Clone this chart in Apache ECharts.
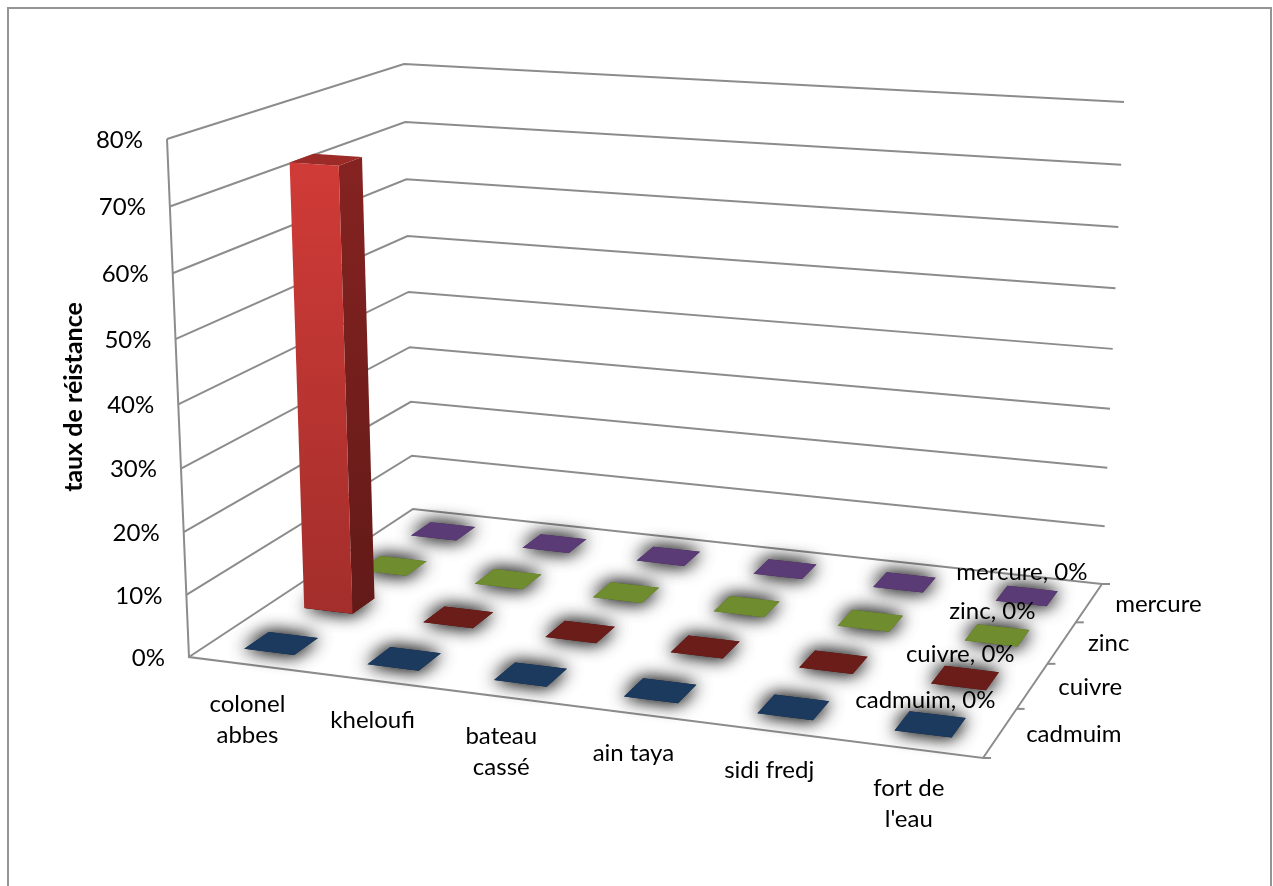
<!DOCTYPE html>
<html>
<head>
<meta charset="utf-8">
<style>html,body{margin:0;padding:0;background:#fff}#chart{width:1273px;height:886px}</style>
<script src="https://cdn.jsdelivr.net/npm/echarts@6/dist/echarts.min.js"></script>
</head>
<body>
<div id="chart"></div>
<script>
// Résistance aux métaux lourds par site de prélèvement
const sites = ['colonel\nabbes', 'kheloufi', 'bateau\ncassé', 'ain taya', 'sidi fredj', 'fort de\nl\'eau'];
const metals = ['cadmuim', 'cuivre', 'zinc', 'mercure'];
const cadmuim = [0, 0, 0, 0, 0, 0];
const cuivre = [72.5, 0, 0, 0, 0, 0];
const zinc = [0, 0, 0, 0, 0, 0];
const mercure = [0, 0, 0, 0, 0, 0];
const metalValues = [cadmuim, cuivre, zinc, mercure];
const percentTicks = [0, 10, 20, 30, 40, 50, 60, 70, 80];
const axisTitle = 'taux de réistance';

// Teintes : base, face avant (haut, bas), côté (haut, bas), dessus
const palette = {
  cadmuim: { base: '#1b3a5e' },
  cuivre: { base: '#6b1d1a', front: ['#d03b37', '#a32e2b'], side: ['#852321', '#621a18'], top: '#9c2a27' },
  zinc: { base: '#6f8d2f' },
  mercure: { base: '#5a3b75' }
};

const FONT = 'Lato';
const TEXT_SIZE = 24;
const LINE = '#8c8c8c';

// Boîte 3D en perspective : sol et plafond décrits par leurs quatre coins
const floorQuad = [[189, 657], [983, 758], [1102, 584], [413, 509]];
const ceilQuad = [[167, 139], [1002, 194], [1124, 102], [404, 64]];
const HEIGHT_RATIO = 1.05;

function homography(q) {
  const [p0, p1, p2, p3] = q;
  const dx1 = p1[0] - p2[0], dx2 = p3[0] - p2[0], sx = p0[0] - p1[0] + p2[0] - p3[0];
  const dy1 = p1[1] - p2[1], dy2 = p3[1] - p2[1], sy = p0[1] - p1[1] + p2[1] - p3[1];
  const det = dx1 * dy2 - dx2 * dy1;
  const g = (sx * dy2 - dx2 * sy) / det;
  const h = (dx1 * sy - sx * dy1) / det;
  const a = p1[0] - p0[0] + g * p1[0], b = p3[0] - p0[0] + h * p3[0], c = p0[0];
  const d = p1[1] - p0[1] + g * p1[1], e = p3[1] - p0[1] + h * p3[1], f = p0[1];
  return (u, v) => {
    const w = g * u + h * v + 1;
    return [(a * u + b * v + c) / w, (d * u + e * v + f) / w];
  };
}
const floorAt = homography(floorQuad);
const ceilAt = homography(ceilQuad);

// u : largeur, v : profondeur, t : hauteur, toutes entre 0 et 1
function project(u, v, t) {
  const p = floorAt(u, v), q = ceilAt(u, v);
  const s = t / (t + (1 - t) * HEIGHT_RATIO);
  return [p[0] + (q[0] - p[0]) * s, p[1] + (q[1] - p[1]) * s];
}

const BAR_W = 0.034;   // demi-largeur d'une barre sur u
const BAR_D = 0.05;    // demi-profondeur d'une barre sur v

// Position sur l'axe : l'échelle cartésienne masquée donne u et t
function scaleToBox(api, cat, val) {
  const c = api.coord([cat, val]);
  return [c[0] / api.getWidth(), 1 - c[1] / api.getHeight()];
}

function renderBar(params, api) {
  const [u, t] = scaleToBox(api, api.value(0), api.value(1));
  const depth = api.value(2);
  const v = (depth + 0.5) / metals.length;
  const tone = palette[metals[depth]];
  const l = u - BAR_W, r = u + BAR_W, f = v - BAR_D, b = v + BAR_D;
  const quad = (pts, style) => ({ type: 'polygon', shape: { points: pts }, style });
  const grad = (c) => new echarts.graphic.LinearGradient(0, 0, 0, 1, [
    { offset: 0, color: c[0] }, { offset: 1, color: c[1] }
  ]);
  const base = [project(l, f, 0), project(r, f, 0), project(r, b, 0), project(l, b, 0)];
  // Deux passages pour densifier le halo gris autour de la base
  const halo = { fill: tone.base, shadowBlur: 18, shadowColor: 'rgba(0,0,0,0.75)' };
  const children = [quad(base, halo), quad(base, halo)];
  if (t > 0) {
    children.push(quad([project(r, f, 0), project(r, b, 0), project(r, b, t), project(r, f, t)], { fill: grad(tone.side) }));
    children.push(quad([project(l, f, 0), project(r, f, 0), project(r, f, t), project(l, f, t)], { fill: grad(tone.front) }));
    children.push(quad([project(l, f, t), project(r, f, t), project(r, b, t), project(l, b, t)], { fill: tone.top }));
  }
  return { type: 'group', children };
}

// Étiquette « série, valeur » au-dessus de la dernière colonne
function renderValueLabel(params, api) {
  const [u, t] = scaleToBox(api, api.value(0), api.value(1));
  const depth = api.value(2);
  const p = project(u, (depth + 0.5) / metals.length, t);
  return {
    type: 'text',
    style: {
      x: p[0] - 5, y: p[1] - 24, text: metals[depth] + ', ' + api.value(1) + '%',
      font: TEXT_SIZE + 'px ' + FONT, fill: '#000', align: 'center', verticalAlign: 'middle'
    }
  };
}

// Parois : une ligne brisée par graduation, plus le libellé en pourcentage
function renderWall(params, api) {
  const [, t] = scaleToBox(api, 0, api.value(0));
  const a = project(0, 0, t), b = project(0, 1, t), c = project(1, 1, t);
  return {
    type: 'group',
    children: [
      { type: 'polyline', shape: { points: [a, b, c] }, style: { stroke: LINE, lineWidth: 2, fill: 'none' } },
      {
        type: 'text',
        style: {
          x: a[0] - 24, y: a[1] + 1, text: api.value(0) + '%',
          font: TEXT_SIZE + 'px ' + FONT, fill: '#000', align: 'right', verticalAlign: 'middle'
        }
      }
    ]
  };
}

// Arêtes du sol et de la paroi avant, graduations de profondeur
function renderFrame(params, api) {
  const edge = (pts) => ({ type: 'polyline', shape: { points: pts }, style: { stroke: LINE, lineWidth: 2, fill: 'none' } });
  const children = [
    edge([project(0, 0, 1), project(0, 0, 0), project(1, 0, 0), project(1, 1, 0)])
  ];
  for (let j = 0; j <= metals.length; j++) {
    const p = project(1, j / metals.length, 0);
    children.push(edge([p, [p[0] + 8, p[1]]]));
  }
  return { type: 'group', children };
}

function renderSiteLabel(params, api) {
  const [u] = scaleToBox(api, api.value(0), 0);
  const p = project(u, 0, 0);
  return {
    type: 'text',
    style: {
      x: p[0] - 3, y: p[1] + 24, text: sites[api.value(0)], lineHeight: 31,
      font: TEXT_SIZE + 'px ' + FONT, fill: '#000', align: 'center', verticalAlign: 'top'
    }
  };
}

function renderMetalLabel(params, api) {
  const depth = api.value(0);
  const p = project(1, (depth + 0.5) / metals.length, 0);
  return {
    type: 'text',
    style: {
      x: p[0] + 26, y: p[1] + 1, text: metals[depth],
      font: TEXT_SIZE + 'px ' + FONT, fill: '#000', align: 'left', verticalAlign: 'middle'
    }
  };
}

const custom = (renderItem, data, z) => ({
  type: 'custom', renderItem, data, z, silent: true, clip: false,
  encode: { x: 0, y: 1 }, animation: false
});

const series = [];
series.push(custom(renderWall, percentTicks.map((p) => [p, p]), 1));
series[0].encode = { y: 1 };
series.push(custom(renderFrame, [[0, 0]], 2));
// Du fond vers l'avant pour que les barres proches recouvrent les autres
for (let d = metals.length - 1; d >= 0; d--) {
  series.push(Object.assign(
    custom(renderBar, metalValues[d].map((val, i) => [i, val, d]), 3),
    { name: metals[d] }
  ));
}
series.push(custom(renderValueLabel, metals.map((m, d) => [sites.length - 1, metalValues[d][sites.length - 1], d]), 5));
series.push(custom(renderSiteLabel, sites.map((s, i) => [i, 0]), 5));
series.push(custom(renderMetalLabel, metals.map((m, d) => [d, 0]), 5));
series[series.length - 1].encode = {};

const chart = echarts.init(document.getElementById('chart'), null, { renderer: 'canvas' });
chart.setOption({
  animation: false,
  backgroundColor: '#fff',
  grid: { left: 0, right: 0, top: 0, bottom: 0, containLabel: false },
  xAxis: { type: 'category', data: sites, show: false },
  yAxis: { type: 'value', min: 0, max: 80, interval: 10, show: false },
  graphic: [
    {
      type: 'polyline', z: 0, silent: true,
      shape: { points: [[8, 900], [8, 8], [1271, 8], [1271, 900]] },
      style: { stroke: '#949494', lineWidth: 2, fill: 'none' }
    },
    {
      type: 'text', z: 6, silent: true, x: 74, y: 397, rotation: Math.PI / 2,
      style: {
        text: axisTitle, font: 'bold 25px ' + FONT, fill: '#000',
        align: 'center', verticalAlign: 'middle'
      }
    }
  ],
  series
});
</script>
</body>
</html>
